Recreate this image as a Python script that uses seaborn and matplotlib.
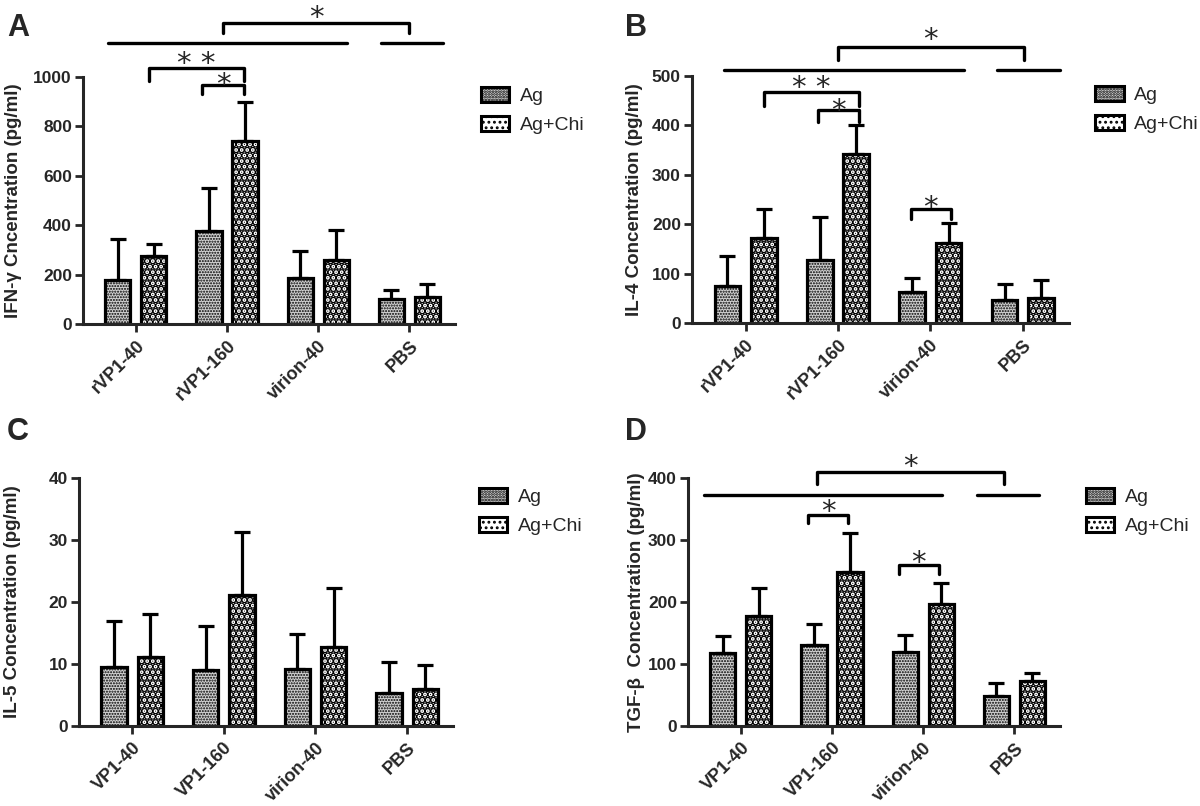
import numpy as np
import pandas as pd
import matplotlib
matplotlib.use("Agg")
import matplotlib.pyplot as plt
import matplotlib.transforms as mtrans
import seaborn as sns
from matplotlib.patches import Patch

sns.set_style("ticks")
plt.rcParams['font.family'] = ['Liberation Sans', 'DejaVu Sans']
plt.rcParams['hatch.linewidth'] = 1.3

# =========================
# data (mean, SD)
# =========================
groups_ab = ["rVP1-40", "rVP1-160", "virion-40", "PBS"]
groups_cd = ["VP1-40", "VP1-160", "virion-40", "PBS"]
treatments = ["Ag", "Ag+Chi"]

ifn_ag = [180, 378, 185, 100]
ifn_ag_sd = [163, 172, 112, 38]
ifn_chi = [275, 740, 258, 110]
ifn_chi_sd = [48, 157, 123, 50]

il4_ag = [75, 128, 63, 46]
il4_ag_sd = [61, 86, 28, 33]
il4_chi = [173, 342, 162, 50]
il4_chi_sd = [57, 58, 40, 37]

il5_ag = [9.5, 9.1, 9.2, 5.4]
il5_ag_sd = [7.5, 7.1, 5.6, 4.9]
il5_chi = [11.2, 21.1, 12.7, 6.0]
il5_chi_sd = [6.9, 10.2, 9.6, 3.8]

tgf_ag = [118, 131, 120, 49]
tgf_ag_sd = [27, 33, 27, 20]
tgf_chi = [178, 248, 197, 73]
tgf_chi_sd = [45, 64, 34, 12]

HATCH = {"Ag": "......", "Ag+Chi": "..."}
FACE = {"Ag": "#d2d2d2", "Ag+Chi": "white"}
HATCH_LW = {"Ag": 1.0, "Ag+Chi": 3.6}


def style_patch(p, t):
    p.set_facecolor(FACE[t])
    p.set_hatch(HATCH[t])
    if hasattr(p, "set_hatch_linewidth"):
        p.set_hatch_linewidth(HATCH_LW[t])


def draw_panel(ax, groups, ag, ag_sd, chi, chi_sd, ylabel, ymax, step, label_x):
    df = pd.DataFrame({
        "group": groups + groups,
        "treat": ["Ag"] * 4 + ["Ag+Chi"] * 4,
        "value": ag + chi,
    })
    sns.barplot(data=df, x="group", y="value", hue="treat", order=groups,
                hue_order=treatments, width=0.79, gap=0.30, errorbar=None,
                palette=["white", "white"], edgecolor="black", linewidth=2.3,
                legend=False, ax=ax)

    for cont, t, sd in zip(ax.containers, treatments, [ag_sd, chi_sd]):
        xs, ys = [], []
        for bar in cont:
            style_patch(bar, t)
            xs.append(bar.get_x() + bar.get_width() / 2)
            ys.append(bar.get_height())
        ax.errorbar(xs, ys, yerr=[[0] * 4, sd], fmt="none", ecolor="black",
                    elinewidth=2.3, capsize=6, capthick=2.3, zorder=1)

    ax.set_xlim(-0.58, 3.5)
    ax.set_ylim(0, ymax)
    ax.set_yticks(np.arange(0, ymax + 1, step))
    ax.set_xlabel("")
    ax.set_ylabel(ylabel, fontsize=13.5, fontweight="bold")
    ax.yaxis.set_label_coords(label_x, 0.5)
    ax.tick_params(axis="both", width=2, length=6, direction="out")
    ax.tick_params(axis="y", labelsize=12.5, pad=2)
    for lab in ax.get_yticklabels():
        lab.set_fontweight("bold")
    ax.set_xticks(range(4))
    ax.set_xticklabels(groups, rotation=45, ha="right", rotation_mode="anchor",
                       fontsize=13, fontweight="bold")
    sns.despine(ax=ax)
    for s in ["left", "bottom"]:
        ax.spines[s].set_linewidth(2.2)

    handles = []
    for t in treatments:
        h = Patch(edgecolor="black", linewidth=2.2, label=t)
        style_patch(h, t)
        handles.append(h)
    ax.legend(handles=handles, loc="upper left", bbox_to_anchor=(1.07, 0.96),
              frameon=False, fontsize=14, handlelength=1.45, handleheight=0.8,
              handletextpad=0.55, labelspacing=0.55, borderaxespad=0, borderpad=0)


def line(ax, x1, x2, y):
    ax.plot([x1, x2], [y, y], color="black", lw=2.4, clip_on=False)


def bracket(ax, x1, x2, y, tip, star, ty):
    ax.plot([x1, x1, x2, x2], [tip, y, y, tip], color="black", lw=2.4, clip_on=False)
    tr = mtrans.offset_copy(ax.transData, fig=ax.figure, y=-6, units="dots")
    ax.text((x1 + x2) / 2, ty, star, ha="center", va="center", fontsize=21,
            family="DejaVu Sans", clip_on=False, transform=tr)


fig = plt.figure(figsize=(12, 8.06), dpi=100)
W, H = 1200, 806


def add_axes(l, r, t, b):
    return fig.add_axes([l / W, 1 - b / H, (r - l) / W, (b - t) / H])


axA = add_axes(83, 455, 77, 324)
axB = add_axes(692, 1069, 76, 323)
axC = add_axes(79, 453, 478, 726)
axD = add_axes(688, 1060, 478, 726)

draw_panel(axA, groups_ab, ifn_ag, ifn_ag_sd, ifn_chi, ifn_chi_sd,
           "IFN-γ Cncentration (pg/ml)", 1000, 200, -0.163)
draw_panel(axB, groups_ab, il4_ag, il4_ag_sd, il4_chi, il4_chi_sd,
           "IL-4 Concentration (pg/ml)", 500, 100, -0.13)
draw_panel(axC, groups_cd, il5_ag, il5_ag_sd, il5_chi, il5_chi_sd,
           "IL-5 Concentration (pg/ml)", 40, 10, -0.155)
draw_panel(axD, groups_cd, tgf_ag, tgf_ag_sd, tgf_chi, tgf_chi_sd,
           "TGF-β  Concentration (pg/ml)", 400, 100, -0.115)

# significance marks
line(axA, -0.31, 2.32, 1139)
line(axA, 2.69, 3.37, 1139)
bracket(axA, 0.96, 3.0, 1220, 1180, "*", 1262)
bracket(axA, 0.14, 1.19, 1038, 984, "* *", 1078)
bracket(axA, 0.73, 1.19, 967, 930, "*", 992)

line(axB, -0.23, 2.36, 513)
line(axB, 2.72, 3.40, 513)
bracket(axB, 1.0, 3.01, 559, 533, "*", 585)
bracket(axB, 0.2, 1.23, 468, 439, "* *", 487)
bracket(axB, 0.78, 1.23, 431, 407, "*", 442)
bracket(axB, 1.79, 2.22, 231, 210, "*", 245)

line(axD, -0.41, 2.21, 373)
line(axD, 2.59, 3.27, 373)
bracket(axD, 0.83, 2.89, 409, 391, "*", 427)
bracket(axD, 0.74, 1.17, 341, 327, "*", 355)
bracket(axD, 1.73, 2.17, 260, 245, "*", 272)

for lab, x, y in [("A", 7, 28), ("B", 625, 28), ("C", 7, 432), ("D", 625, 432)]:
    fig.text(x / W, 1 - y / H, lab, fontsize=22, fontweight="bold", va="center", ha="left")

fig.savefig("out.png", dpi=100)
